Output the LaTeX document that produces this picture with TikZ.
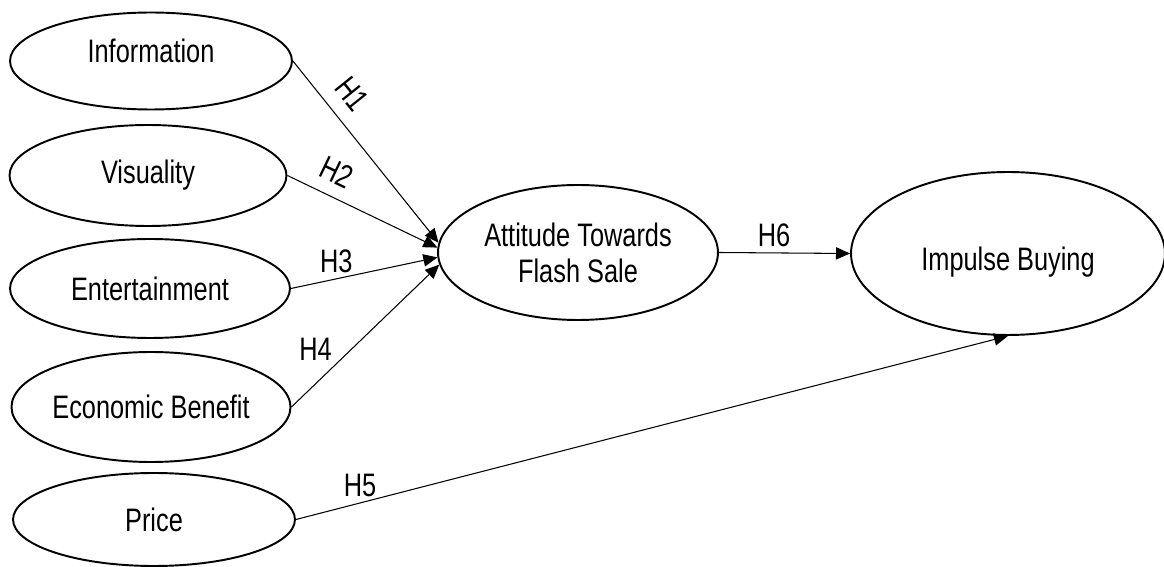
\documentclass[tikz,border=0pt]{standalone}
\usepackage{fontspec}
\setmainfont{Liberation Sans}[FakeStretch=0.78]
\usetikzlibrary{shapes.geometric}
\usetikzlibrary{arrows.meta}

\begin{document}
\begin{tikzpicture}[x=0.02cm, y=-0.02cm,
		v/.style = {ellipse, draw, line width=1.1pt, inner sep=0pt, align=center, font=\fontsize{18.5}{20.5}\selectfont},
		h/.style = {font=\fontsize{18.5}{20.5}\selectfont, inner sep=2pt},
		r/.style = {-{Triangle[length=8pt, width=7pt]}, line width=0.6pt}
		]
		\useasboundingbox (0, 0) rectangle (1164, 567);
		
		%Nodes
		\node[v, minimum width=5.64cm, minimum height=1.94cm, text depth=0.4cm]	(info)	at	(151, 61)		{Information};
		\node[v, minimum width=5.54cm, minimum height=2.02cm]	(vis)	at	(148, 175.5)	{Visuality};
		\node[v, minimum width=5.6cm, minimum height=1.98cm]	(ent)	at	(150, 288.5)	{Entertainment};
		\node[v, minimum width=5.56cm, minimum height=2.2cm]	(eco)	at	(151, 407)		{Economic Benefit};
		\node[v, minimum width=5.64cm, minimum height=1.86cm]	(price)	at	(154, 519.5)	{Price};
		\node[v, minimum width=5.6cm, minimum height=2.7cm]		(att)	at	(578, 252.5)	{Attitude Towards\\Flash Sale};
		\node[v, minimum width=6.28cm, minimum height=3.26cm, text height=0.8cm]	(imp)	at	(1008, 253.5)	{Impulse Buying};
		
		%Lines
		\draw[r]	(info.east)		to	node[h, pos=0.27, sloped, above=6pt]	{H1}	(att.176);
		\draw[r]	(vis.east)		to	node[h, pos=0.26, sloped, above=5pt]	{H2}	(att.178);
		\draw[r]	(ent.east)		to	node[h, pos=0.31, above=1pt]			{H3}	(att.182);
		\draw[r]	(eco.east)		to	node[h, pos=0.3, above left=0pt]		{H4}	(att.185);
		\draw[r]	(price.east)	to	node[h, pos=0.09, above=1pt]			{H5}	(imp.south);
		\draw[r]	(att.east)		to	node[h, pos=0.42, above=1pt]			{H6}	(imp.west);
	\end{tikzpicture}
\end{document}
